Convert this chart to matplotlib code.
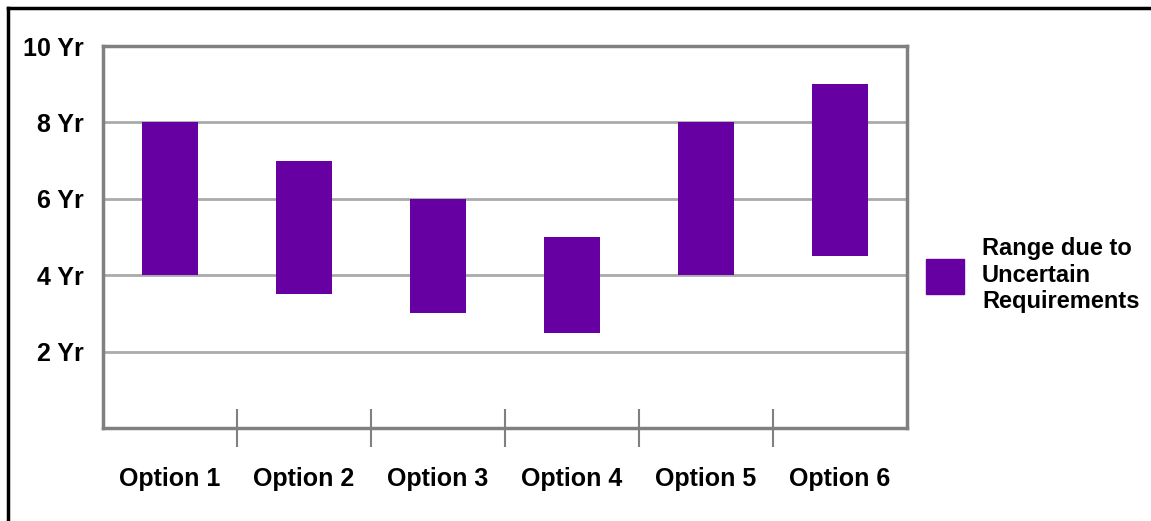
import numpy as np
import matplotlib
matplotlib.use('Agg')
import matplotlib.pyplot as plt
from matplotlib.lines import Line2D
from matplotlib.patches import Patch

# data
options = ['Option 1', 'Option 2', 'Option 3', 'Option 4', 'Option 5', 'Option 6']
low = [4, 3.5, 3, 2.5, 4, 4.5]
high = [8, 7, 6, 5, 8, 9]
yticks = [2, 4, 6, 8, 10]
ylabels = ['2 Yr', '4 Yr', '6 Yr', '8 Yr', '10 Yr']

plt.rcParams['font.family'] = ['Liberation Sans', 'DejaVu Sans']
plt.rcParams['font.weight'] = 'bold'

W, H = 1151, 521
fig = plt.figure(figsize=(W / 100, H / 100), dpi=100)
ax = fig.add_axes([103 / W, 1 - 428 / H, 804 / W, 382 / H])

purple = '#6600a2'
x = np.arange(len(options))
heights = [h - l for h, l in zip(high, low)]
ax.bar(x, heights, bottom=low, width=0.425, color=purple, zorder=3)

ax.set_xlim(-0.5, len(options) - 0.5)
ax.set_ylim(0, 10)

# horizontal grid lines
for y in yticks[:-1]:
    ax.axhline(y, color='#aaaaaa', lw=2, zorder=1)

ax.set_yticks(yticks)
ax.set_yticklabels(ylabels, fontsize=18, fontweight='bold')
ax.tick_params(axis='y', length=0, pad=14)

# category labels under each bar, tick marks on the boundaries
ax.set_xticks(x)
ax.set_xticklabels(options, fontsize=18, fontweight='bold')
ax.tick_params(axis='x', length=0, pad=28)
ax.set_xticks(x[:-1] + 0.5, minor=True)
ax.tick_params(axis='x', which='minor', length=28, width=1.5, color='#808080',
               direction='inout')

for s in ax.spines.values():
    s.set_color('#808080')
    s.set_linewidth(2.5)

leg = ax.legend(handles=[Patch(color=purple, label='Range due to\nUncertain\nRequirements')],
                loc='center left', bbox_to_anchor=(1.0125, 0.4), frameon=False,
                prop={'size': 17, 'weight': 'bold'}, handlelength=1.6, handleheight=1.9,
                handletextpad=0.75, borderaxespad=0, labelspacing=0.3)

# outer frame along top and left
fig.add_artist(Line2D([8 / W, 8 / W], [0, 1 - 8 / H], color='black', lw=2.5,
                      transform=fig.transFigure))
fig.add_artist(Line2D([8 / W, 1], [1 - 8 / H, 1 - 8 / H], color='black', lw=2.5,
                      transform=fig.transFigure))

fig.savefig('out.png', dpi=100)
